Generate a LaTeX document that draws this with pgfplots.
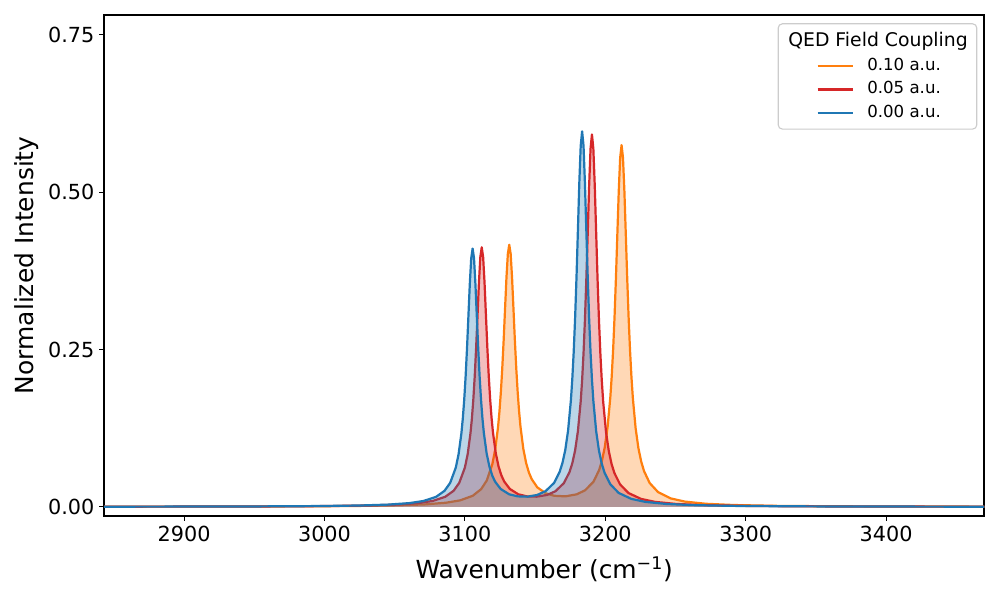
\documentclass[border=0pt]{standalone}
\usepackage{fontspec}
\setmainfont{DejaVu Sans}
\usepackage{pgfplots}
\usepackage{pgfplotstable}
\pgfplotsset{compat=1.18}
\definecolor{mplblue}{HTML}{1F77B4}
\definecolor{mplred}{HTML}{D62728}
\definecolor{mplorange}{HTML}{FF7F0E}
\definecolor{legedge}{HTML}{CCCCCC}

\pgfplotstableread{
x y
2835.5 0.00026
2905.5 0.00045
2955.5 0.00074
2995.5 0.00126
3025.5 0.00218
3045.5 0.0036
3060.5 0.00596
3070.5 0.00932
3079.5 0.0159
3085.5 0.0255
3089.5 0.0380
3093.5 0.0622
3095.5 0.0835
3097.5 0.1166
3098.5 0.1399
3099.5 0.1693
3100.5 0.2062
3101.5 0.2510
3102.5 0.3023
3103.5 0.3540
3104.5 0.3947
3105.5 0.4104
3106.5 0.3948
3107.5 0.3543
3108.5 0.3026
3109.5 0.2515
3110.5 0.2068
3111.5 0.1701
3112.5 0.1407
3113.5 0.1176
3115.5 0.0848
3117.5 0.0637
3119.5 0.0497
3121.5 0.0401
3125.5 0.0284
3131.5 0.0200
3137.5 0.0167
3144.5 0.0162
3151.5 0.0189
3157.5 0.0250
3163.5 0.0380
3167.5 0.0556
3169.5 0.0698
3171.5 0.0903
3173.5 0.1212
3175.5 0.1692
3176.5 0.2030
3177.5 0.2458
3178.5 0.2994
3179.5 0.3647
3180.5 0.4393
3181.5 0.5147
3182.5 0.5738
3183.5 0.5967
3184.5 0.5737
3185.5 0.5145
3186.5 0.4391
3187.5 0.3643
3188.5 0.2990
3189.5 0.2452
3190.5 0.2024
3191.5 0.1685
3193.5 0.1203
3195.5 0.0893
3197.5 0.0685
3199.5 0.0541
3203.5 0.0361
3209.5 0.0222
3218.5 0.0127
3228.5 0.0079
3243.5 0.0046
3263.5 0.0027
3293.5 0.0015
3333.5 0.00086
3383.5 0.0005
3473.5 0.00025
}\blueS

\pgfplotstableread{
x y
2837 0.00025
2912 0.00045
2962 0.00074
3002 0.00126
3032 0.00218
3052 0.0036
3067 0.0060
3077 0.00935
3086 0.0160
3092 0.0256
3096 0.0382
3100 0.0624
3102 0.0839
3104 0.1172
3105 0.1405
3106 0.1701
3107 0.2071
3108 0.2522
3109 0.3037
3110 0.3558
3111 0.3966
3112 0.4124
3113 0.3967
3114 0.3560
3115 0.3041
3116 0.2527
3117 0.2078
3118 0.1708
3119 0.1414
3120 0.1182
3122 0.0852
3124 0.0640
3126 0.0500
3128 0.0403
3132 0.0285
3138 0.0200
3144 0.0167
3151 0.0162
3158.5 0.0189
3164.5 0.0248
3170.5 0.0377
3174.5 0.0552
3176.5 0.0692
3178.5 0.0896
3180.5 0.1202
3182.5 0.1678
3183.5 0.2013
3184.5 0.2438
3185.5 0.2969
3186.5 0.3617
3187.5 0.4356
3188.5 0.5104
3189.5 0.5690
3190.5 0.5917
3191.5 0.5689
3192.5 0.5102
3193.5 0.4354
3194.5 0.3613
3195.5 0.2965
3196.5 0.2433
3197.5 0.2007
3198.5 0.1671
3200.5 0.1193
3202.5 0.0886
3204.5 0.0679
3206.5 0.0537
3210.5 0.0358
3216.5 0.0220
3225.5 0.0126
3235.5 0.0079
3250.5 0.0046
3270.5 0.0027
3300.5 0.0015
3340.5 0.00085
3390.5 0.0005
3480.5 0.00025
}\redS

\pgfplotstableread{
x y
2831.6 0.00024
2931.6 0.00048
2981.6 0.0008
3021.6 0.00138
3051.6 0.00238
3071.6 0.0039
3086.6 0.0066
3096.6 0.0103
3105.6 0.0176
3111.6 0.0282
3115.6 0.0419
3119.6 0.0683
3121.6 0.0912
3123.6 0.1264
3124.6 0.1509
3125.6 0.1814
3126.6 0.2191
3127.6 0.2639
3128.6 0.3142
3129.6 0.3637
3130.6 0.4019
3131.6 0.4165
3132.6 0.4020
3133.6 0.3640
3134.6 0.3146
3135.6 0.2644
3136.6 0.2197
3137.6 0.1822
3138.6 0.1517
3139.6 0.1274
3141.6 0.0925
3143.6 0.0698
3145.6 0.0545
3147.6 0.0440
3151.6 0.0309
3157.6 0.0216
3163.6 0.0176
3171.6 0.0167
3179.6 0.0199
3185.6 0.0263
3191.6 0.0399
3195.6 0.0584
3197.6 0.0731
3199.6 0.0943
3201.6 0.1259
3203.6 0.1744
3204.6 0.2081
3205.6 0.2503
3206.6 0.3021
3207.6 0.3643
3208.6 0.4336
3209.6 0.5021
3210.6 0.5547
3211.6 0.5748
3212.6 0.5546
3213.6 0.5019
3214.6 0.4334
3215.6 0.3639
3216.6 0.3017
3217.6 0.2497
3218.6 0.2075
3219.6 0.1737
3221.6 0.1250
3223.6 0.0931
3225.6 0.0718
3227.6 0.0568
3231.6 0.0379
3237.6 0.0234
3246.6 0.0134
3256.6 0.0084
3271.6 0.0049
3291.6 0.0029
3321.6 0.0016
3361.6 0.0009
3411.6 0.00054
3501.6 0.00027
}\orangeS

\begin{document}
\begin{tikzpicture}
\useasboundingbox (-75.2pt,-60.7pt) rectangle (647.5pt,372.9pt);
\begin{axis}[
  at={(0,0)}, anchor=south west,
  scale only axis, width=636.2pt, height=362.3pt,
  xmin=2843, xmax=3470, ymin=-0.0145, ymax=0.782,
  xtick={2900,3000,3100,3200,3300,3400},
  ytick={0,0.25,0.5,0.75},
  axis line style={line width=1.4pt},
  tick pos=left, tick align=outside,
  major tick length=3.5pt,
  tick style={line width=0.8pt, black},
  ticklabel style={font=\fontsize{15}{18}\selectfont},
  /pgf/number format/assume math mode=true,
  xticklabel style={/pgf/number format/1000 sep={}},
  yticklabel style={/pgf/number format/.cd, fixed, fixed zerofill, precision=2},
  xlabel={Wavenumber (cm\textsuperscript{−1})},
  ylabel={Normalized Intensity},
  label style={font=\fontsize{18}{21}\selectfont},
  xlabel style={yshift=-4.5pt},
  legend cell align=left,
  legend image code/.code={\path[draw=none,fill=none] (0pt,0pt) -- (22pt,0pt); \draw[#1] (22pt,0pt) -- (47.5pt,0pt);},
  legend style={at={(rel axis cs:1,1)}, anchor=north east, xshift=-5.1pt, yshift=-6.2pt,
    draw=legedge, line width=0.8pt, rounded corners=3pt, fill=white, fill opacity=0.8, text opacity=1,
    font=\fontsize{12}{14}\selectfont, inner xsep=6.5pt, inner ysep=4.3pt,
    column sep=9.6pt, row sep=2.5pt,
    nodes={inner xsep=0pt, inner ysep=1.25pt, text height=9pt, text depth=3pt}},
]
\addlegendimage{empty legend}
\addlegendentry[font=\fontsize{13.6}{16}\selectfont, text height=11pt]{\hspace*{-57.1pt}QED Field Coupling}

\addplot[draw=none, fill=mplorange, fill opacity=0.3, forget plot] table {\orangeS} \closedcycle;
\addplot[mplorange, line width=1.6pt, line join=round, no marks] table {\orangeS};
\addlegendentry{0.10 a.u.}

\addplot[draw=none, fill=mplred, fill opacity=0.3, forget plot] table {\redS} \closedcycle;
\addplot[mplred, line width=1.6pt, line join=round, no marks] table {\redS};
\addlegendentry{0.05 a.u.}

\addplot[draw=none, fill=mplblue, fill opacity=0.3, forget plot] table {\blueS} \closedcycle;
\addplot[mplblue, line width=1.6pt, line join=round, no marks] table {\blueS};
\addlegendentry{0.00 a.u.}
\end{axis}
\end{tikzpicture}
\end{document}
